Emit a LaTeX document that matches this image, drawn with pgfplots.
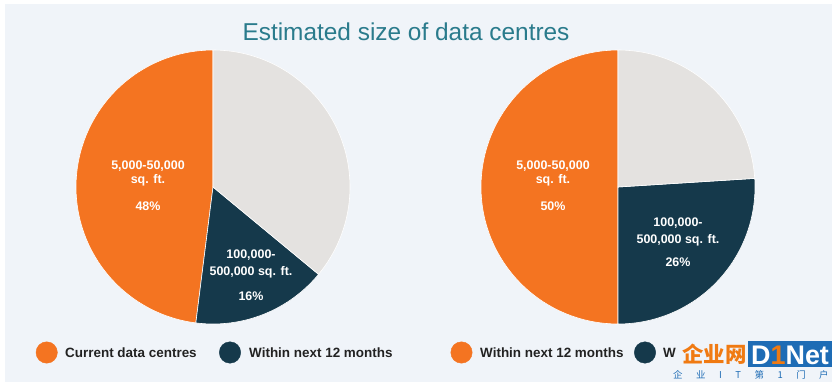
\documentclass[border=0pt]{standalone}
\usepackage{pgfplots}
\pgfplotsset{compat=1.18}
\usepackage{fontspec}
\setmainfont{Liberation Sans}
\newfontfamily\cjk{Noto Sans CJK SC}
\definecolor{bg}{HTML}{F0F4F9}
\definecolor{pieorange}{HTML}{F47421}
\definecolor{pienavy}{HTML}{15394B}
\definecolor{piegray}{HTML}{E4E2E0}
\definecolor{titlecol}{HTML}{2A7B8C}
\definecolor{legtext}{HTML}{222222}
\definecolor{wmblue}{HTML}{1E6CB5}
\definecolor{wmorange}{HTML}{F07A12}
\begin{document}
\begin{tikzpicture}
\useasboundingbox (0,0) rectangle (832bp,382bp);
\fill[white] (0,0) rectangle (832bp,382bp);
\fill[bg] (5bp,0) rectangle (832bp,378bp);
\begin{axis}[
  hide axis, scale only axis, clip=false,
  x=1bp, y=1bp, xmin=0, xmax=832, ymin=0, ymax=382,
  anchor=south west, at={(0,0)},
]
% Left pie: Current data centres (48 / 16 / 36 %), start at 90 deg, counter-clockwise
\addplot[fill=pieorange, draw=white, line width=0.6bp, domain=90:262.8, samples=100, variable=\t]
  ({213+137*cos(t)},{195+137*sin(t)}) -- (axis cs:213,195) -- cycle;
\addplot[fill=pienavy, draw=white, line width=0.6bp, domain=262.8:320.4, samples=40, variable=\t]
  ({213+137*cos(t)},{195+137*sin(t)}) -- (axis cs:213,195) -- cycle;
\addplot[fill=piegray, draw=white, line width=0.6bp, domain=320.4:450, samples=80, variable=\t]
  ({213+137*cos(t)},{195+137*sin(t)}) -- (axis cs:213,195) -- cycle;
% Right pie: Within next 12 months (50 / 26 / 24 %)
\addplot[fill=pieorange, draw=white, line width=0.6bp, domain=90:270, samples=100, variable=\t]
  ({618+137*cos(t)},{195+137*sin(t)}) -- (axis cs:618,195) -- cycle;
\addplot[fill=pienavy, draw=white, line width=0.6bp, domain=270:363.6, samples=60, variable=\t]
  ({618+137*cos(t)},{195+137*sin(t)}) -- (axis cs:618,195) -- cycle;
\addplot[fill=piegray, draw=white, line width=0.6bp, domain=363.6:450, samples=60, variable=\t]
  ({618+137*cos(t)},{195+137*sin(t)}) -- (axis cs:618,195) -- cycle;
% legend markers
\addplot[only marks, mark=*, mark size=10.7bp, color=pieorange] coordinates {(46.7,29.5) (461.5,29.5)};
\addplot[only marks, mark=*, mark size=10.7bp, color=pienavy] coordinates {(230,29.5) (645,29.5)};

% title
\node[anchor=base, text=titlecol, font=\fontsize{24.5}{28}\selectfont] at (axis cs:406,342) {Estimated size of data centres};

% slice labels
\begin{scope}[every node/.style={anchor=base, text=white, font=\fontsize{12.5}{14}\selectfont\bfseries}]
\node at (axis cs:148,212.5) {5,000-50,000};
\node at (axis cs:148,199) {sq. ft.};
\node at (axis cs:148,172) {48\%};
\node at (axis cs:251,124) {100,000-};
\node at (axis cs:251,107) {500,000 sq. ft.};
\node at (axis cs:251,81.3) {16\%};
\node at (axis cs:553,212.5) {5,000-50,000};
\node at (axis cs:553,199) {sq. ft.};
\node at (axis cs:553,172) {50\%};
\node at (axis cs:678,156) {100,000-};
\node at (axis cs:678,138.7) {500,000 sq. ft.};
\node at (axis cs:678,115.3) {26\%};
\end{scope}

% legend text
\begin{scope}[every node/.style={anchor=base west, inner sep=0pt, text=legtext, font=\fontsize{13.5}{16}\selectfont\bfseries}]
\node at (axis cs:65,25) {Current data centres};
\node at (axis cs:249,25) {Within next 12 months};
\node at (axis cs:480,25) {Within next 12 months};
\node at (axis cs:663,25) {W};
\end{scope}

% watermark (covers the rest of the last legend entry)
\node[anchor=base west, inner sep=0pt, text=wmorange, font=\cjk\bfseries\fontsize{21.5}{24}\selectfont] at (axis cs:682,20) {企业网};
\fill[wmblue] (axis cs:748,15) rectangle (axis cs:832,41);
\node[anchor=base west, inner sep=0pt, text=white, font=\fontsize{27}{29}\selectfont\bfseries] at (axis cs:751,18) {D\textcolor{wmorange}{1}Net};
\node[anchor=base west, inner sep=0pt, text=wmblue, font=\cjk\fontsize{9.5}{10}\selectfont] at (axis cs:673,4) {企\hspace{13.5bp}业\hspace{13.5bp}I\hspace{13.5bp}T\hspace{13.5bp}第\hspace{13.5bp}1\hspace{13.5bp}门\hspace{13.5bp}户};
\end{axis}
\end{tikzpicture}
\end{document}
